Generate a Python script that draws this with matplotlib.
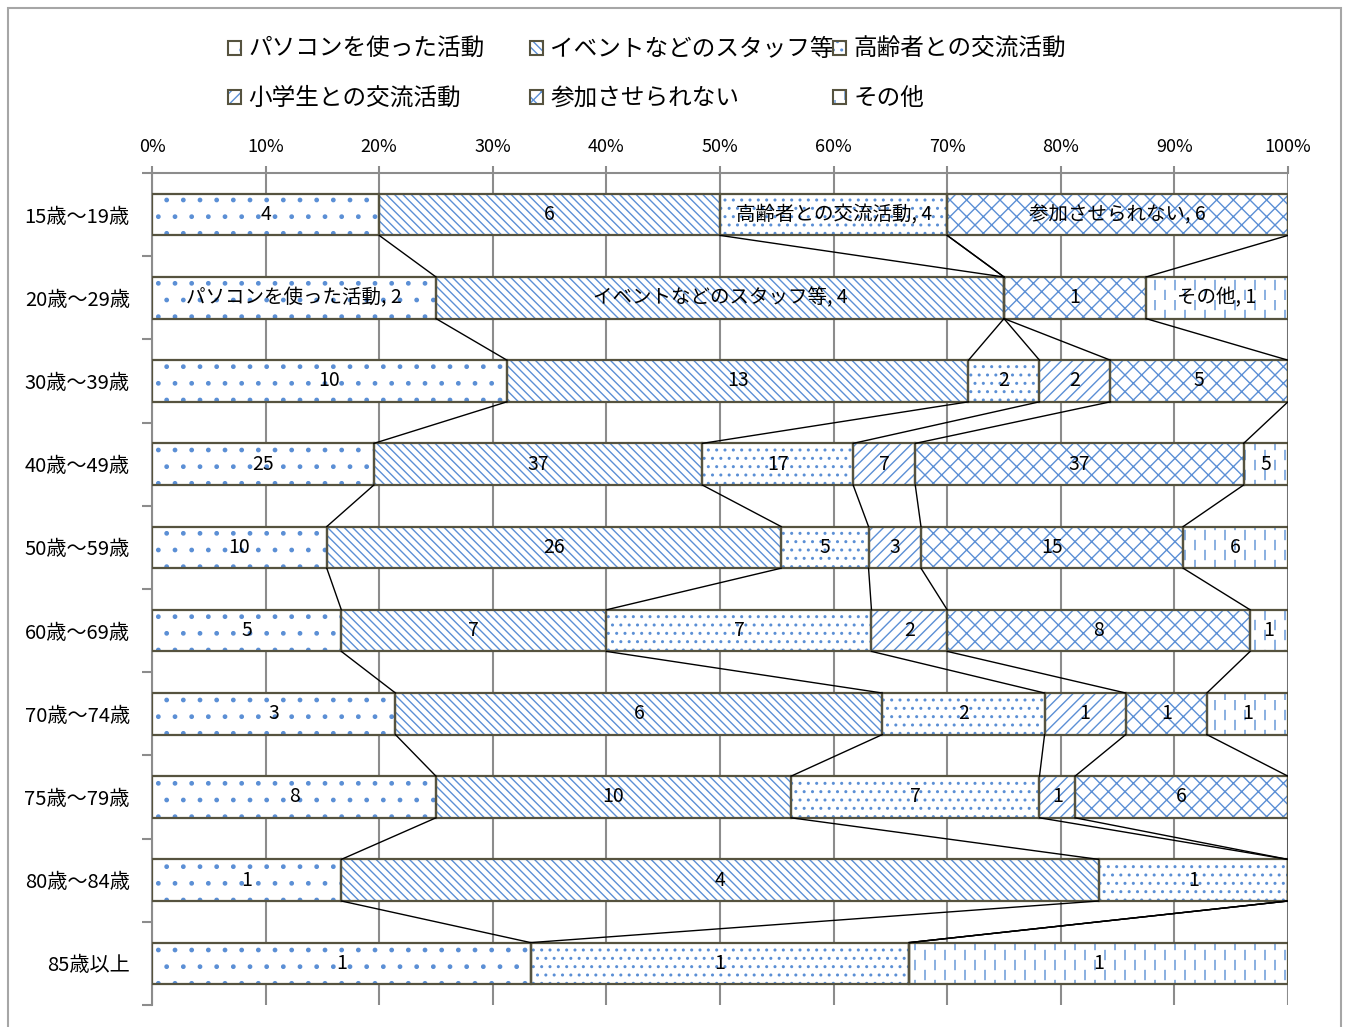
import numpy as np
import matplotlib
matplotlib.use("Agg")
import matplotlib.pyplot as plt
import matplotlib.hatch as mhatch
from matplotlib.path import Path
from matplotlib.patches import Patch, Rectangle

plt.rcParams['font.family'] = ['Noto Sans CJK JP', 'DejaVu Sans']
plt.rcParams['hatch.linewidth'] = 1.0

# --- data ---
age_groups = ["15歳～19歳", "20歳～29歳", "30歳～39歳", "40歳～49歳", "50歳～59歳",
              "60歳～69歳", "70歳～74歳", "75歳～79歳", "80歳～84歳", "85歳以上"]
series_names = ["パソコンを使った活動", "イベントなどのスタッフ等", "高齢者との交流活動",
                "小学生との交流活動", "参加させられない", "その他"]
pc      = [4, 2, 10, 25, 10, 5, 3, 8, 1, 1]
staff   = [6, 4, 13, 37, 26, 7, 6, 10, 4, 0]
elderly = [4, 0, 2, 17, 5, 7, 2, 7, 1, 1]
pupils  = [0, 0, 2, 7, 3, 2, 1, 1, 0, 0]
unable  = [6, 1, 5, 37, 15, 8, 1, 6, 0, 0]
other   = [0, 1, 0, 5, 6, 1, 1, 0, 0, 1]
# (row, series) labels that also show the series name
named_labels = [(0, 2), (0, 4), (1, 0), (1, 1), (1, 5)]
xtick_labels = ["0%", "10%", "20%", "30%", "40%", "50%", "60%", "70%", "80%", "90%", "100%"]

# --- styles ---
hatches = ['.', '\\' * 4, '..', '///', 'xx', '*']
HATCH_C = '#5b8fd5'
EDGE_C = '#56533f'
GRID_C = '#8c8c8c'


# vertical dashes pattern (replaces the star hatch, used for その他)
class VerticalDashes(mhatch.HatchPatternBase):
    def __init__(self, hatch, density):
        self.n = hatch.count('*') * 5
        self.num_vertices = 2 * 2 * self.n * self.n

    def set_vertices_and_codes(self, vertices, codes):
        n = self.n
        pts = []
        for ph in (0.25, 0.75):
            for i in range(n):
                for j in range(n):
                    x = (i + ph) / n
                    y = (j + ph) / n
                    pts.append((x, y - 0.045))
                    pts.append((x, y + 0.045))
        vertices[:] = np.array(pts)
        codes[0::2] = Path.MOVETO
        codes[1::2] = Path.LINETO


mhatch._hatch_types = [t for t in mhatch._hatch_types if t is not mhatch.Stars] + [VerticalDashes]

values = np.array([pc, staff, elderly, pupils, unable, other], dtype=float)
totals = values.sum(axis=0)
shares = values / totals
cum = np.vstack([np.zeros(len(age_groups)), np.cumsum(shares, axis=0)])

fig = plt.figure(figsize=(13.49, 10.27), dpi=100)
ax = fig.add_axes([152 / 1349, 1 - 1005 / 1027, (1288 - 152) / 1349, (1005 - 173) / 1027])

y = np.arange(len(age_groups))
bh = 0.5
for k in range(len(series_names)):
    ax.barh(y, shares[k], left=cum[k], height=bh, color='white',
            edgecolor=HATCH_C, linewidth=0, hatch=hatches[k], zorder=2)
    ax.barh(y, shares[k], left=cum[k], height=bh, fill=False,
            edgecolor=EDGE_C, linewidth=1.6, zorder=3)
    for i in range(len(age_groups)):
        v = values[k, i]
        if v == 0:
            continue
        txt = f"{int(v)}"
        if (i, k) in named_labels:
            txt = f"{series_names[k]}, {int(v)}"
        ax.text(cum[k, i] + shares[k, i] / 2, i, txt, ha='center', va='center',
                fontsize=14, color='black', zorder=5)

# series lines between bars
for i in range(len(age_groups) - 1):
    for k in range(1, len(series_names) + 1):
        ax.plot([cum[k, i], cum[k, i + 1]], [i + bh / 2, i + 1 - bh / 2],
                color='black', linewidth=1.0, zorder=4)

ax.set_xlim(0, 1)
ax.set_ylim(len(age_groups) - 0.5, -0.5)
ax.xaxis.tick_top()
ax.set_xticks(np.linspace(0, 1, 11))
ax.set_xticklabels(xtick_labels, fontsize=13)
ax.tick_params(axis='x', direction='out', length=5, width=1.5, color=GRID_C, pad=7)
ax.set_yticks(y)
ax.set_yticklabels(age_groups, fontsize=14.5)
ax.set_yticks(np.arange(-0.5, len(age_groups), 1.0), minor=True)
ax.tick_params(axis='y', which='major', length=0, pad=16)
ax.tick_params(axis='y', which='minor', direction='out', length=7, width=1.5, color=GRID_C)
ax.grid(axis='x', color=GRID_C, linewidth=1.5, zorder=0)
ax.set_axisbelow(True)
for s in ['right', 'bottom']:
    ax.spines[s].set_visible(False)
for s in ['top', 'left']:
    ax.spines[s].set_color(GRID_C)
    ax.spines[s].set_linewidth(1.5)

# legend: three columns of two rows
handles = [(Patch(facecolor='white', edgecolor=HATCH_C, linewidth=0, hatch=hatches[k]),
            Patch(fill=False, edgecolor=EDGE_C, linewidth=1.5)) for k in range(6)]
col_x = [228 / 1349, 530 / 1349, 833 / 1349]
for c in range(3):
    idx = [c, c + 3]
    fig.legend([handles[j] for j in idx], [series_names[j] for j in idx],
               loc='upper left', bbox_to_anchor=(col_x[c], 0.963), frameon=False,
               fontsize=17, handlelength=0.55, handleheight=0.55, handletextpad=0.3,
               labelspacing=1.1, borderpad=0, borderaxespad=0)

# outer chart border
fig.patches.append(Rectangle((8 / 1349, -0.05), (1341 - 8) / 1349, 1.05 - 8 / 1027,
                             transform=fig.transFigure, fill=False,
                             edgecolor='#a6a6a6', linewidth=1.5))

fig.savefig("out.png", dpi=100)
